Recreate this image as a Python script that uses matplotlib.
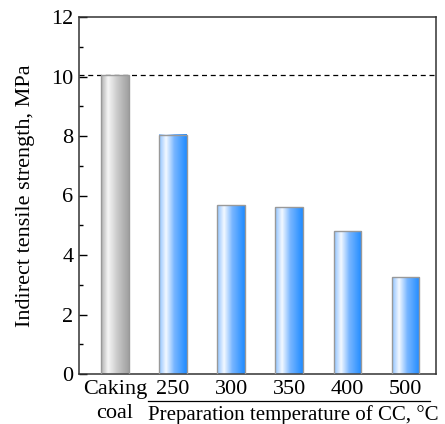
import numpy as np
import matplotlib
matplotlib.use("Agg")
import matplotlib.pyplot as plt
from matplotlib.colors import LinearSegmentedColormap

categories = ["Caking\ncoal", "250", "300", "350", "400", "500"]
values = [10.05, 8.05, 5.67, 5.6, 4.8, 3.25]
ref_level = 10.05

plt.rcParams['font.family'] = ['Liberation Serif', 'DejaVu Serif']
plt.rcParams['mathtext.fontset'] = 'stix'

fig = plt.figure(figsize=(4.45, 4.24), dpi=100)
ax = fig.add_axes([79/445, 1-374/424, 357/445, 357/424])

x = np.arange(len(categories))
width = 0.47
bars = ax.bar(x, values, width=width, color='none', edgecolor='#999999', linewidth=1.0, zorder=3)

blue = LinearSegmentedColormap.from_list('b', [(0, '#8ec2ff'), (0.25, '#f4f9ff'), (0.55, '#78b6ff'), (1, '#1f8bff')])
gray = LinearSegmentedColormap.from_list('g', [(0, '#b0b0b0'), (0.25, '#f6f6f6'), (0.6, '#c8c8c8'), (1, '#a0a0a0')])
grad = np.linspace(0, 1, 64).reshape(1, -1)
for i, b in enumerate(bars):
    cm = gray if i == 0 else blue
    x0, w, h = b.get_x(), b.get_width(), b.get_height()
    ax.imshow(grad, cmap=cm, aspect='auto', extent=[x0, x0 + w, 0, h], zorder=2, interpolation='bilinear')

ax.axhline(ref_level, color='black', linestyle=(0, (4, 3)), linewidth=0.9, zorder=1)

ax.set_xlim(-0.62, 5.53)
ax.set_ylim(0, 12)
ax.set_yticks(np.arange(0, 13, 2))
ax.set_yticks(np.arange(1, 12, 2), minor=True)
ax.tick_params(axis='y', which='major', direction='in', length=6, labelsize=16, width=1, pad=4)
ax.tick_params(axis='y', which='minor', direction='in', length=3, width=1)
ax.tick_params(axis='x', which='both', length=0, labelsize=16, pad=4)
ax.set_xticks(x)
ax.set_xticklabels(categories, linespacing=1.4)
for s in ax.spines.values():
    s.set_linewidth(1.1)
    s.set_color('#333333')

ax.set_ylabel("Indirect tensile strength, MPa", fontsize=16, labelpad=12)

# group label with line
fig.add_artist(plt.Line2D([148/445, 430/445], [1-401/424, 1-401/424], color='black', linewidth=0.9))
fig.text(293/445, 1-420/424, "Preparation temperature of CC, \u00b0C", ha='center', va='baseline', fontsize=15)

fig.savefig("out.png", dpi=100)
